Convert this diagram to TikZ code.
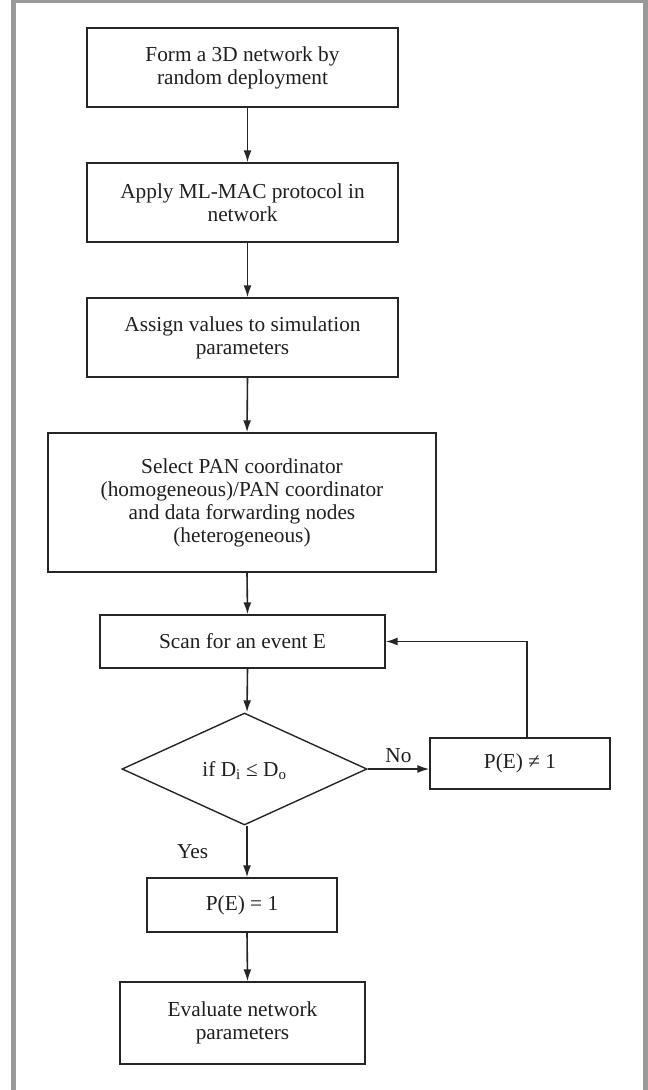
\documentclass[tikz,border=0pt]{standalone}
\usepackage{fontspec}
\setmainfont{Liberation Serif}
\usetikzlibrary{shapes.geometric,arrows.meta}
\begin{document}
\begin{tikzpicture}[x=1pt,y=-1pt,
  every node/.style={font=\fontsize{21.3}{23}\selectfont, text=black!88},
  procbox/.style={draw=black!85, line width=1.4pt, rectangle, align=center, inner sep=0pt},
  decbox/.style={draw=black!85, line width=1.4pt, diamond, inner sep=0pt},
  flow/.style={draw=black!85, line width=1.6pt, -{Latex[length=12pt,width=8pt]}},
  lbl/.style={inner sep=0pt}
]
\useasboundingbox (0,0) rectangle (648,1090);
% frame
\fill[black!40] (11,0) rectangle (16,1090);
\fill[black!40] (11,0) rectangle (648,3);
\fill[black!40] (643,0) rectangle (648,1090);

\node[procbox, minimum width=311pt, minimum height=79pt] (b1) at (242.5,67.5) {Form a 3D network by\\random deployment};
\node[procbox, minimum width=311pt, minimum height=79pt] (b2) at (242.5,202.5) {Apply ML-MAC protocol in\\network};
\node[procbox, minimum width=311pt, minimum height=79pt] (b3) at (242.5,337.5) {Assign values to simulation\\parameters};
\node[procbox, minimum width=388pt, minimum height=139pt] (b4) at (242,502.5) {Select PAN coordinator\\(homogeneous)/PAN coordinator\\and data forwarding nodes\\(heterogeneous)};
\node[procbox, minimum width=285pt, minimum height=53pt] (b5) at (242.5,641.5) {Scan for an event E};
\node[decbox, minimum width=245pt, minimum height=112pt] (d) at (244.5,769) {};
\node[lbl] (dt) at (244.5,771) {if D\textsubscript{i} ≤ D\textsubscript{o}};
\node[procbox, minimum width=180pt, minimum height=51pt] (b6) at (520,763.5) {P(E) ≠ 1};
\node[procbox, minimum width=190pt, minimum height=54pt] (b7) at (242,905) {P(E) = 1};
\node[procbox, minimum width=245pt, minimum height=82pt] (b8) at (242.5,1023) {Evaluate network\\parameters};

\draw[flow] ([xshift=5pt]b1.south) -- ([xshift=5pt]b2.north);
\draw[flow] ([xshift=5pt]b2.south) -- ([xshift=5pt]b3.north);
\draw[flow] ([xshift=5pt]b3.south) -- ([xshift=5pt]b4.north);
\draw[flow] ([xshift=5pt]b4.south) -- ([xshift=5pt]b5.north);
\draw[flow] ([xshift=5pt]b5.south) -- ([xshift=2.5pt]d.north);
\draw[flow] (d.east) -- (d.east -| b6.west) node[lbl, midway, above=6pt] (no) {No};
\draw[flow] ([xshift=7pt]b6.north) |- (b5.east);
\draw[flow] ([xshift=2.5pt]d.south) -- ([xshift=5pt]b7.north) node[lbl, midway, left=38pt] (yes) {Yes};
\draw[flow] ([xshift=5pt]b7.south) -- ([xshift=5pt]b8.north);
\end{tikzpicture}
\end{document}
